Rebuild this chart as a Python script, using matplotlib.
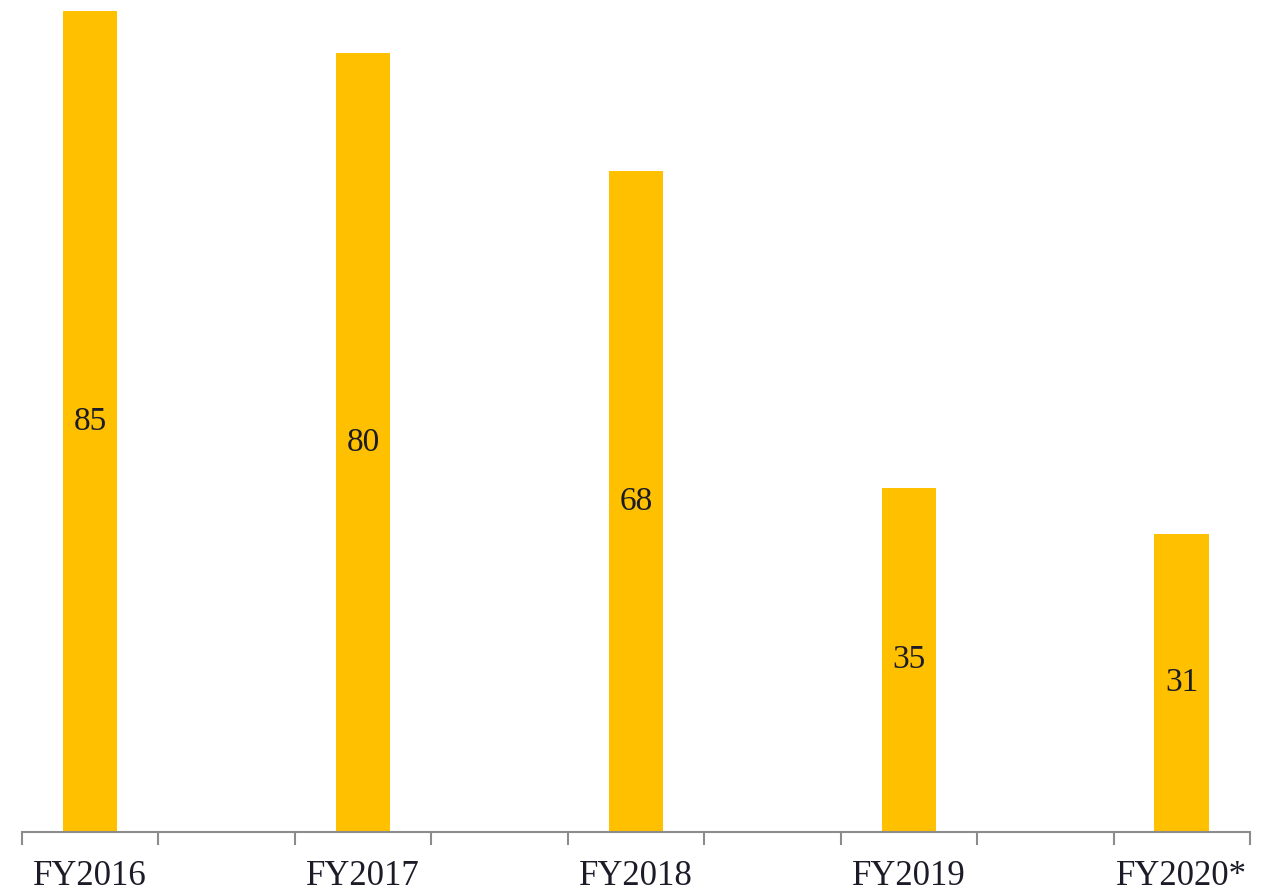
import matplotlib.pyplot as plt
import numpy as np

years = ["FY2016", "FY2017", "FY2018", "FY2019", "FY2020*"]
values = [84.6, 80.3, 68.1, 35.4, 30.7]

plt.rcParams['font.family'] = ['Liberation Serif', 'DejaVu Serif']

fig = plt.figure(figsize=(12.76, 8.93), dpi=100)
ax = fig.add_axes([0.0172, 0.0683, 0.9624, 0.9194])

# bars sit in every other slot, with empty slots between them
x = np.arange(len(years)) * 2
n_slots = 2 * len(years) - 1
bars = ax.bar(x, values, width=0.4, color="#FFC000")

for b, v in zip(bars, values):
    ax.text(b.get_x() + b.get_width() / 2, v / 2, f"{v:.0f}",
            ha="center", va="center", fontsize=24, color="#1c1c28")

ax.set_xlim(-0.5, n_slots - 0.5)
ax.set_ylim(0, max(values))
ax.set_xticks(x)
ax.set_xticklabels(years, fontsize=25, color="#1c1c28")
ax.tick_params(axis="x", which="major", length=0, pad=20)
ax.set_xticks(np.arange(-0.5, n_slots, 1.0), minor=True)
ax.tick_params(axis="x", which="minor", length=9, width=1.5, color="#8c8c8c", direction="out")
ax.set_yticks([])

for s in ["top", "right", "left"]:
    ax.spines[s].set_visible(False)
ax.spines["bottom"].set_color("#8c8c8c")
ax.spines["bottom"].set_linewidth(1.5)

fig.savefig("out.png", dpi=100)
